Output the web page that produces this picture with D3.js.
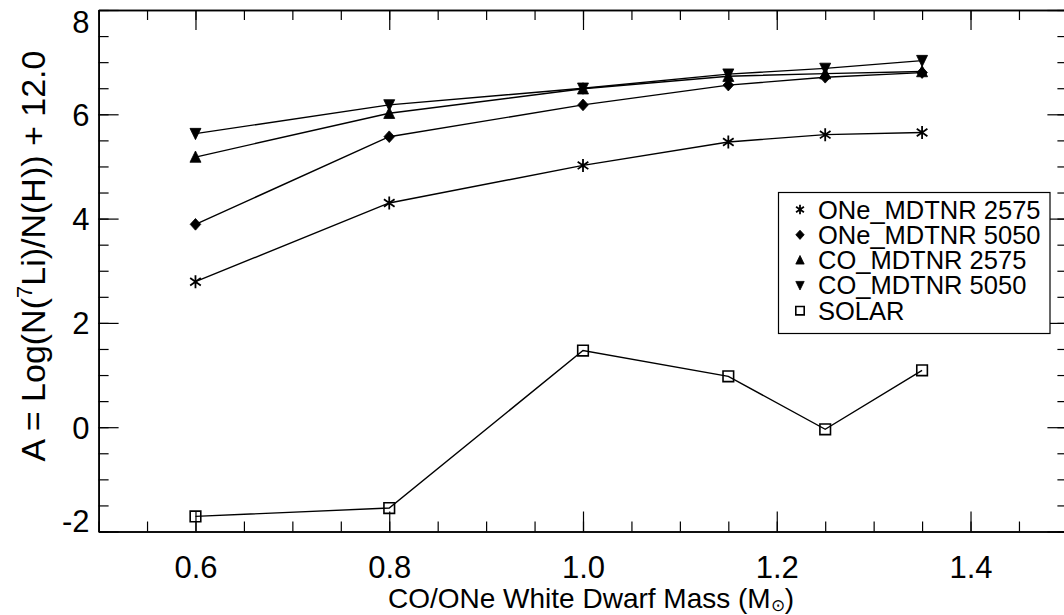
<!DOCTYPE html>
<html><head><meta charset="utf-8">
<script src="https://cdn.jsdelivr.net/npm/d3@7"></script>
<style>
html,body{margin:0;padding:0;background:#fff;}
svg{display:block;font-family:"Liberation Sans",Arial,Helvetica,sans-serif;}
</style></head><body>
<svg id="c" width="1064" height="615"></svg>
<script>
// ---- data ----
const masses = [0.6, 0.8, 1.0, 1.15, 1.25, 1.35];
const one2575 = [2.79, 4.30, 5.02, 5.47, 5.61, 5.65];
const one5050 = [3.89, 5.57, 6.18, 6.56, 6.71, 6.80];
const co2575 = [5.18, 6.02, 6.49, 6.73, 6.78, 6.82];
const co5050 = [5.63, 6.18, 6.50, 6.77, 6.88, 7.03];
const solar = [-1.71, -1.55, 1.47, 0.975, -0.04, 1.09];
const seriesNames = ["ONe_MDTNR 2575", "ONe_MDTNR 5050", "CO_MDTNR 2575", "CO_MDTNR 5050", "SOLAR"];
const xTicks = [0.6, 0.8, 1.0, 1.2, 1.4];
const xTickLabels = ["0.6", "0.8", "1.0", "1.2", "1.4"];
const yTicks = [-2, 0, 2, 4, 6, 8];
const yTickLabels = ["-2", "0", "2", "4", "6", "8"];

const series = [
  {name: seriesNames[0], values: one2575, sym: "asterisk"},
  {name: seriesNames[1], values: one5050, sym: "diamond"},
  {name: seriesNames[2], values: co2575, sym: "triup"},
  {name: seriesNames[3], values: co5050, sym: "tridown"},
  {name: seriesNames[4], values: solar, sym: "square"}
];

const svg = d3.select("#c");
const L = 98.6, R = 1067.4, T = 10, B = 531.5;
const x = d3.scaleLinear().domain([0.5, 1.5]).range([L, R]);
const y = d3.scaleLinear().domain([-2, 8]).range([B, T]);

function symPath(type, s) {
  const p = d3.path();
  if (type === "asterisk") {
    for (const a of [90, 35, 145]) {
      const r = a * Math.PI / 180;
      p.moveTo(-s * Math.cos(r), -s * Math.sin(r));
      p.lineTo(s * Math.cos(r), s * Math.sin(r));
    }
  } else if (type === "diamond") {
    p.moveTo(0, -s * 1.1); p.lineTo(s, 0); p.lineTo(0, s * 1.1); p.lineTo(-s, 0); p.closePath();
  } else if (type === "triup") {
    p.moveTo(0, -s * 1.1); p.lineTo(s, s * 0.95); p.lineTo(-s, s * 0.95); p.closePath();
  } else if (type === "tridown") {
    p.moveTo(0, s * 1.1); p.lineTo(s, -s * 0.95); p.lineTo(-s, -s * 0.95); p.closePath();
  } else if (type === "square") {
    p.rect(-s, -s, 2 * s, 2 * s);
  }
  return p.toString();
}
function symStyle(sel, type) {
  if (type === "asterisk") sel.attr("fill", "none").attr("stroke", "#000").attr("stroke-width", 1.8);
  else if (type === "square") sel.attr("fill", "none").attr("stroke", "#000").attr("stroke-width", 1.6);
  else sel.attr("fill", "#000").attr("stroke", "#000").attr("stroke-width", 0.8);
}
const symSize = {asterisk: 6.5, diamond: 5.3, triup: 5.5, tridown: 5.5, square: 5.3};

// ---- axes ----
const fsTick = 31;
const minorX = d3.range(0.5, 1.5001, 0.05).map(v => +v.toFixed(2));
const minorY = d3.range(-2, 8.001, 0.5).map(v => +v.toFixed(2));

function styleAxis(g) {
  g.select(".domain").attr("stroke", "#000").attr("stroke-width", 1.5);
  g.selectAll(".tick line").attr("stroke", "#000").attr("stroke-width", 1.2);
}
svg.append("g").attr("transform", `translate(0,${B})`)
  .call(d3.axisBottom(x).tickValues(minorX).tickSize(-10).tickSizeOuter(0).tickFormat(""))
  .call(styleAxis);
svg.append("g").attr("transform", `translate(0,${T})`)
  .call(d3.axisTop(x).tickValues(minorX).tickSize(-10).tickSizeOuter(0).tickFormat(""))
  .call(styleAxis);
svg.append("g").attr("transform", `translate(${L},0)`)
  .call(d3.axisLeft(y).tickValues(minorY).tickSize(-10).tickSizeOuter(0).tickFormat(""))
  .call(styleAxis);
svg.append("g").attr("transform", `translate(${R},0)`)
  .call(d3.axisRight(y).tickValues(minorY).tickSize(-10).tickSizeOuter(0).tickFormat(""))
  .call(styleAxis);
const gx = svg.append("g").attr("transform", `translate(0,${B})`)
  .call(d3.axisBottom(x).tickValues(xTicks).tickSize(-20).tickSizeOuter(0).tickPadding(24)
    .tickFormat((d, i) => xTickLabels[i]))
  .call(styleAxis);
gx.selectAll("text").attr("font-size", fsTick).attr("fill", "#000")
  .attr("font-family", "Liberation Sans, Arial, sans-serif");
svg.append("g").attr("transform", `translate(0,${T})`)
  .call(d3.axisTop(x).tickValues(xTicks).tickSize(-20).tickSizeOuter(0).tickFormat(""))
  .call(styleAxis);
const gy = svg.append("g").attr("transform", `translate(${L},0)`)
  .call(d3.axisLeft(y).tickValues(yTicks).tickSize(-20).tickSizeOuter(0).tickPadding(9)
    .tickFormat((d, i) => yTickLabels[i]))
  .call(styleAxis);
gy.selectAll("text").attr("font-size", fsTick).attr("fill", "#000")
  .attr("font-family", "Liberation Sans, Arial, sans-serif")
  .attr("dy", d => d === 8 ? "0.72em" : (d === -2 ? "0em" : "0.35em"));
svg.append("g").attr("transform", `translate(${R},0)`)
  .call(d3.axisRight(y).tickValues(yTicks).tickSize(-20).tickSizeOuter(0).tickFormat(""))
  .call(styleAxis);

// ---- axis titles ----
const xt = svg.append("text").attr("x", 591).attr("y", 608).attr("text-anchor", "middle")
  .attr("font-size", 28).attr("fill", "#000");
xt.append("tspan").text("CO/ONe White Dwarf Mass (M");
xt.append("tspan").attr("font-size", 17).attr("dy", 3).text("\u2299");
xt.append("tspan").attr("dy", -3).text(")");

const yt = svg.append("text").attr("transform", "translate(45,256) rotate(-90)")
  .attr("text-anchor", "middle").attr("font-size", 34).attr("fill", "#000");
yt.append("tspan").text("A = Log(N(");
yt.append("tspan").attr("font-size", 22).attr("dy", -13).text("7");
yt.append("tspan").attr("dy", 13).text("Li)/N(H)) + 12.0");

// ---- lines & markers ----
const line = d3.line().x((d, i) => x(masses[i])).y(d => y(d));
series.forEach(s => {
  svg.append("path").datum(s.values).attr("d", line)
    .attr("fill", "none").attr("stroke", "#000").attr("stroke-width", 1.4);
});
series.forEach(s => {
  svg.append("g").selectAll("path").data(s.values).join("path")
    .attr("transform", (d, i) => `translate(${x(masses[i])},${y(d)})`)
    .attr("d", symPath(s.sym, symSize[s.sym]))
    .call(sel => symStyle(sel, s.sym));
});

// ---- legend ----
const lg = svg.append("g");
lg.append("rect").attr("x", 778.5).attr("y", 192.5).attr("width", 271.5).attr("height", 141)
  .attr("fill", "#fff").attr("stroke", "#000").attr("stroke-width", 1.2);
series.forEach((s, i) => {
  const cy = 209.5 + i * 25.3;
  lg.append("path").attr("transform", `translate(800,${cy})`)
    .attr("d", symPath(s.sym, s.sym === "asterisk" ? 4.8 : 4.2))
    .call(sel => symStyle(sel, s.sym));
  lg.append("text").attr("x", 818).attr("y", cy + 9).attr("font-size", 25.5).attr("fill", "#000")
    .text(s.name);
});
</script>
</body></html>
